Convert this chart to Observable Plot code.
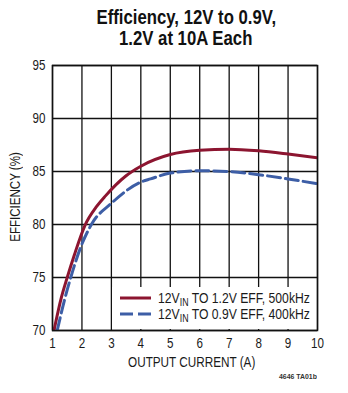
<!DOCTYPE html>
<html>
<head>
<meta charset="utf-8">
<script src="https://cdn.jsdelivr.net/npm/d3@7"></script>
<script src="https://cdn.jsdelivr.net/npm/@observablehq/plot@0.6"></script>
<style>
  html, body { margin: 0; padding: 0; background: #fff; }
  #chart { position: relative; width: 348px; height: 393px; overflow: hidden;
    font-family: "Liberation Sans", Arial, sans-serif; color: #1a1a1a; }
  #chart > svg { position: absolute; left: 0; top: 0; }
  .fit { display: inline-block; white-space: nowrap; }
  .title { position: absolute; left: 0; width: 372px; top: 7px; text-align: center;
    font-weight: bold; font-size: 20px; line-height: 21px; color: #111; }
  .xlabel { position: absolute; left: 0; width: 383px; top: 354px; text-align: center; font-size: 14.5px; line-height: 16px; }
  .ylabel { position: absolute; left: 15px; top: 197px; transform: translate(-50%, -50%) rotate(-90deg);
    white-space: nowrap; font-size: 14.5px; line-height: 16px; }
  .legend { position: absolute; left: 112px; top: 287px; width: 204px; height: 42px; background: #fff; }
  .legend .row { position: absolute; left: 0; height: 16px; white-space: nowrap; font-size: 14.5px; line-height: 16px; }
  .legend .swatch { position: absolute; left: 8px; top: 5px; }
  .legend .fit { position: absolute; left: 46px; top: 0; transform-origin: 0 50%; }
  .legend sub { font-size: 10.5px; vertical-align: -3px; line-height: 0; }
  .note { position: absolute; right: 31px; top: 372px; font-size: 8px; line-height: 9px; font-weight: bold; color: #333; transform-origin: 100% 50%; }
</style>
</head>
<body>
<div id="chart"></div>
<script>
// Efficiency (%) versus output current (A) for the two outputs
const current12 = [1.05, 1.3, 1.5, 1.75, 2.1, 2.5, 2.8, 3.5, 4, 5, 6, 7, 8, 9, 10];
const eff12 = [70.0, 73.1, 75.0, 77.2, 79.9, 81.7, 82.7, 84.6, 85.5, 86.6, 87.0, 87.1, 86.95, 86.65, 86.3];
const current09 = [1.16, 1.4, 1.62, 1.95, 2.32, 3, 4, 4.33, 5, 6, 7, 8, 9, 10];
const eff09 = [70.0, 72.8, 75.0, 77.8, 80.0, 82.0, 84.0, 84.3, 84.85, 85.07, 85.0, 84.7, 84.3, 83.84];

const xTicks = [1, 2, 3, 4, 5, 6, 7, 8, 9, 10];
const yTicks = [70, 75, 80, 85, 90, 95];

const seriesNames = ["12VIN TO 1.2V EFF, 500kHz", "12VIN TO 0.9V EFF, 400kHz"];
const seriesColors = ["#8c1530", "#3d5ea6"];

const rows12 = current12.map((x, i) => ({x, y: eff12[i]}));
const rows09 = current09.map((x, i) => ({x, y: eff09[i]}));

const chart = document.getElementById("chart");

const plot = Plot.plot({
  width: 348,
  height: 393,
  marginTop: 65,
  marginRight: 31,
  marginBottom: 63,
  marginLeft: 52,
  style: {fontFamily: '"Liberation Sans", Arial, sans-serif', fontSize: "14px", color: "#1a1a1a", background: "transparent"},
  x: {domain: [1, 10]},
  y: {domain: [70, 95]},
  marks: [
    Plot.gridX(xTicks, {stroke: "#111", strokeOpacity: 1, strokeWidth: 1.3}),
    Plot.gridY(yTicks, {stroke: "#111", strokeOpacity: 1, strokeWidth: 1.3}),
    Plot.axisX(xTicks, {tickSize: 0, tickPadding: 8, label: null, fontSize: 14}),
    Plot.axisY(yTicks, {tickSize: 0, tickPadding: 7, label: null, fontSize: 14}),
    Plot.line(rows12, {x: "x", y: "y", curve: "monotone-x", stroke: seriesColors[0], strokeWidth: 3, clip: true}),
    Plot.line(rows09, {x: "x", y: "y", curve: "monotone-x", stroke: seriesColors[1], strokeWidth: 3,
      strokeDasharray: "13,5", clip: true}),
    Plot.frame({stroke: "#111", strokeWidth: 1.5})
  ]
});
chart.appendChild(plot);

// narrow the tick labels to a condensed look (scaled about each label's anchor)
d3.select(plot).selectAll('g[aria-label$="tick label"] text').each(function () {
  const t = this.getAttribute("transform") || "";
  this.setAttribute("transform", t + " scale(0.83,1)");
});

// squeeze a text element horizontally to a target width (layout width, before any transform)
function fit(el, target) {
  const k = target / el.offsetWidth;
  el.style.transform = `scaleX(${k})`;
  return k;
}

const title = document.createElement("div");
title.className = "title";
title.innerHTML = '<span class="fit">Efficiency, 12V to 0.9V,</span><br><span class="fit">1.2V at 10A Each</span>';
chart.appendChild(title);
const tSpans = title.querySelectorAll(".fit");
const kTitle = fit(tSpans[0], 180);
tSpans[1].style.transform = `scaleX(${kTitle})`;

const xl = document.createElement("div");
xl.className = "xlabel";
xl.innerHTML = '<span class="fit">OUTPUT CURRENT (A)</span>';
chart.appendChild(xl);
fit(xl.firstChild, 127);

const yl = document.createElement("div");
yl.className = "ylabel";
yl.innerHTML = '<span class="fit">EFFICIENCY (%)</span>';
chart.appendChild(yl);
fit(yl.firstChild, 90);

// legend box drawn over the lower-right gridlines
const legend = document.createElement("div");
legend.className = "legend";
chart.appendChild(legend);
let kLegend = null;
seriesNames.forEach((name, i) => {
  const row = document.createElement("div");
  row.className = "row";
  row.style.top = (3 + i * 16) + "px";
  row.style.width = "204px";
  const dash = i === 1 ? ' stroke-dasharray="13,5"' : "";
  const parts = name.split("VIN");
  row.innerHTML = `<svg class="swatch" width="32" height="6"><line x1="0" y1="3" x2="31" y2="3" stroke="${seriesColors[i]}" stroke-width="3"${dash}/></svg><span class="fit">${parts[0]}V<sub>IN</sub>${parts[1]}</span>`;
  legend.appendChild(row);
  const span = row.querySelector(".fit");
  if (kLegend === null) kLegend = fit(span, 152);
  else span.style.transform = `scaleX(${kLegend})`;
});

const note = document.createElement("div");
note.className = "note";
note.textContent = "4646 TA01b";
chart.appendChild(note);
fit(note, 38);
</script>
</body>
</html>
